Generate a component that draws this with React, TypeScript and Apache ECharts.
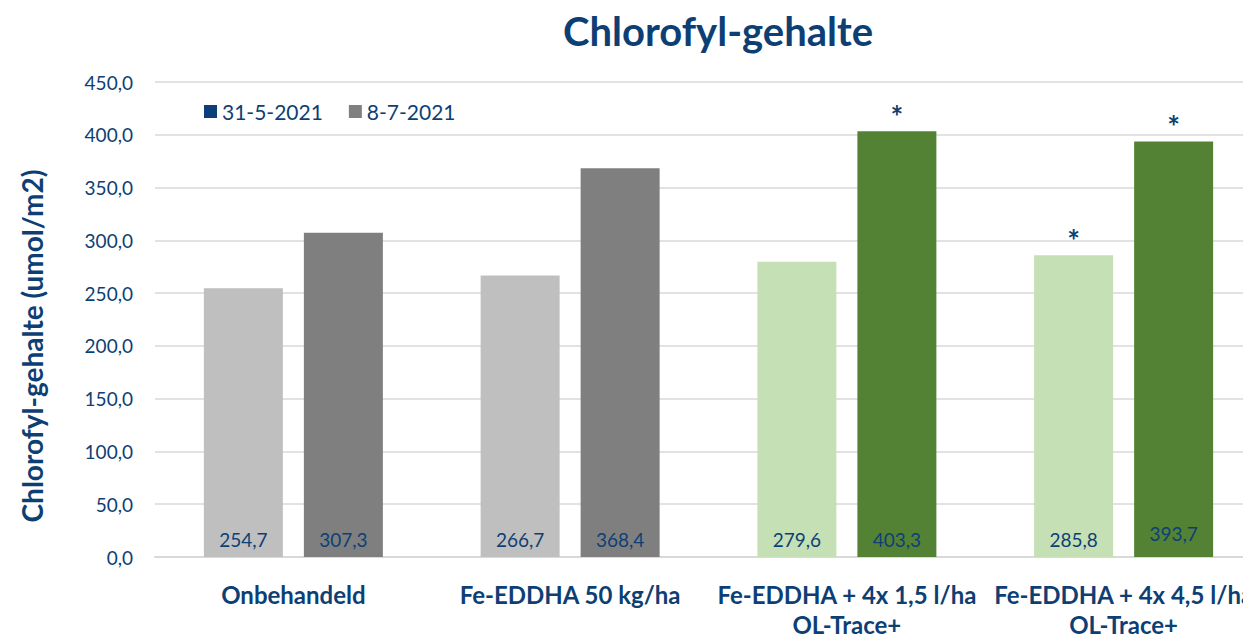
import React, { useEffect, useRef } from "react";
import * as echarts from "echarts";

const categories = [
  "Onbehandeld",
  "Fe-EDDHA 50 kg/ha",
  "Fe-EDDHA + 4x 1,5 l/ha\nOL-Trace+",
  "Fe-EDDHA + 4x 4,5 l/ha\nOL-Trace+",
];
const seriesNames = ["31-5-2021", "8-7-2021"];
const values1 = [254.7, 266.7, 279.6, 285.8];
const values2 = [307.3, 368.4, 403.3, 393.7];
const colors1 = ["#BFBFBF", "#BFBFBF", "#C5E0B4", "#C5E0B4"];
const colors2 = ["#7F7F7F", "#7F7F7F", "#548235", "#548235"];
const stars1 = [false, false, false, true];
const stars2 = [false, false, true, true];
const yAxisTitle = "Chlorofyl-gehalte (umol/m2)";

const NAVY = "#0E3F74";
const FONT = "Lato";

const fmt = (v: number) => v.toFixed(1).replace(".", ",");

export default function App() {
  const ref = useRef<HTMLDivElement>(null);
  useEffect(() => {
    const chart = echarts.init(ref.current!, null, { renderer: "svg" });
    const barLabel = {
      show: true,
      position: "insideBottom",
      distance: 8,
      fontSize: 19,
      fontFamily: FONT,
      color: NAVY,
      formatter: (p: any) => fmt(p.value),
    };
    const starSeries = (stack: string, flags: boolean[]) => ({
      type: "bar",
      stack,
      barWidth: 79,
      silent: true,
      itemStyle: { color: "transparent" },
      data: flags.map((f) => ({
        value: 0,
        label: {
          show: f,
          position: "top",
          distance: 0,
          formatter: "*",
          fontSize: 30,
          fontWeight: "bold",
          fontFamily: FONT,
          color: NAVY,
        },
      })),
    });
    chart.setOption({
      animation: false,
      textStyle: { fontFamily: FONT },
      title: {
        text: "Chlorofyl-gehalte",
        left: 558,
        top: 6,
        textStyle: { fontSize: 40, fontWeight: "bold", color: NAVY, fontFamily: FONT },
      },
      legend: {
        data: seriesNames,
        left: 199,
        top: 96,
        icon: "rect",
        itemWidth: 13,
        itemHeight: 13,
        itemGap: 26,
        textStyle: { fontSize: 21, color: NAVY, fontFamily: FONT },
      },
      graphic: [
        {
          type: "text",
          x: 32,
          y: 346,
          rotation: Math.PI / 2,
          style: {
            text: yAxisTitle,
            align: "center",
            verticalAlign: "middle",
            fontSize: 28,
            fontWeight: "bold",
            fontFamily: FONT,
            fill: NAVY,
          },
        },
      ],
      grid: { left: 155, right: 0, top: 82, bottom: 76 },
      xAxis: {
        type: "category",
        data: categories,
        axisTick: { show: false },
        axisLine: { lineStyle: { color: "#D9D9D9", width: 2 } },
        axisLabel: {
          interval: 0,
          margin: 22,
          fontSize: 24,
          fontWeight: "bold",
          lineHeight: 30,
          color: NAVY,
          fontFamily: FONT,
        },
      },
      yAxis: {
        type: "value",
        min: 0,
        max: 450,
        interval: 50,
        axisLine: { show: false },
        axisTick: { show: false },
        axisLabel: {
          margin: 22,
          fontSize: 19,
          color: NAVY,
          fontFamily: FONT,
          formatter: (v: number) => fmt(v),
        },
        splitLine: { lineStyle: { color: "#D9D9D9", width: 1.5 } },
      },
      series: [
        {
          name: seriesNames[0],
          type: "bar",
          stack: "a",
          barWidth: 79,
          barGap: "26.6%",
          itemStyle: { color: "#0B3F7A" },
          label: barLabel,
          data: values1.map((v, i) => ({ value: v, itemStyle: { color: colors1[i] } })),
        },
        starSeries("a", stars1),
        {
          name: seriesNames[1],
          type: "bar",
          stack: "b",
          barWidth: 79,
          barGap: "26.6%",
          itemStyle: { color: "#808080" },
          label: barLabel,
          data: values2.map((v, i) => ({
            value: v,
            itemStyle: { color: colors2[i] },
            ...(i === 3 ? { label: { distance: 14 } } : {}),
          })),
        },
        starSeries("b", stars2),
      ],
    });
    return () => chart.dispose();
  }, []);
  return (
    <div
      style={{
        position: "absolute",
        left: 0,
        top: 0,
        width: 1243,
        height: 639,
        overflow: "hidden",
      }}
    >
      <div ref={ref} style={{ width: 1262, height: 639 }} />
    </div>
  );
}
